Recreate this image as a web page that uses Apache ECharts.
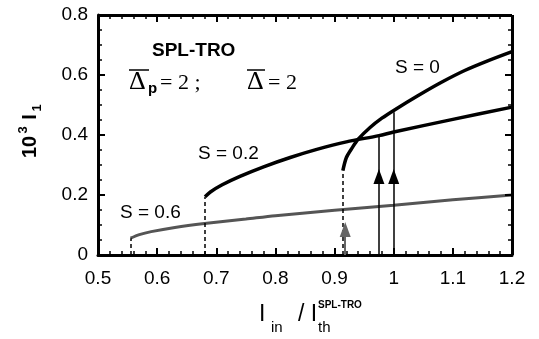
<!DOCTYPE html>
<html>
<head>
<meta charset="utf-8">
<script src="https://cdn.jsdelivr.net/npm/echarts@6/dist/echarts.min.js"></script>
<style>
  html, body { margin: 0; padding: 0; background: #fff; }
  #chart { width: 539px; height: 339px; }
</style>
</head>
<body>
<div id="chart"></div>
<script>
// S = 0 curve
const s0X = [0.914, 0.92, 0.93, 0.94, 0.96, 0.98, 1.0, 1.04, 1.08, 1.12, 1.16, 1.2];
const s0Y = [0.281, 0.325, 0.358, 0.386, 0.425, 0.456, 0.482, 0.53, 0.575, 0.615, 0.648, 0.678];
// S = 0.2 curve
const s02X = [0.681, 0.69, 0.71, 0.74, 0.78, 0.825, 0.87, 0.92, 0.975, 1.0, 1.1, 1.2];
const s02Y = [0.194, 0.21, 0.234, 0.262, 0.294, 0.325, 0.352, 0.377, 0.398, 0.41, 0.452, 0.493];
// S = 0.6 curve
const s06X = [0.555, 0.57, 0.59, 0.63, 0.68, 0.75, 0.8, 0.9, 1.0, 1.1, 1.2];
const s06Y = [0.056, 0.068, 0.078, 0.092, 0.105, 0.12, 0.131, 0.149, 0.166, 0.184, 0.2];

// arrows: x position, arrow head centre, top of the stem (null = stops at head)
const arrowX = [0.918, 0.975, 1.0];
const arrowHead = [0.085, 0.262, 0.262];
const arrowTop = [null, 0.398, 0.476];
const arrowColor = ['#666', '#000', '#000'];

// axes
const xMin = 0.5, xMax = 1.2, xStep = 0.1, xMinorSplit = 5;
const yMin = 0, yMax = 0.8, yStep = 0.2, yMinorSplit = 4;

// plot area in px (grid) and tick lengths
const gridW = 414, gridH = 240;
const majorLen = 7, minorLen = 4;
const pxX = (xMax - xMin) / gridW, pxY = (yMax - yMin) / gridH;

const pairs = (xs, ys) => xs.map((x, i) => [x, ys[i]]);

// inward ticks on all four sides of the frame
function tickLines(major) {
  const out = [];
  const len = major ? majorLen : minorLen;
  const nx = Math.round((xMax - xMin) / xStep) * xMinorSplit;
  for (let i = 0; i <= nx; i++) {
    if ((i % xMinorSplit === 0) !== major) continue;
    const v = xMin + i * xStep / xMinorSplit;
    out.push([{ coord: [v, yMin] }, { coord: [v, yMin + len * pxY] }]);
    out.push([{ coord: [v, yMax] }, { coord: [v, yMax - len * pxY] }]);
  }
  const ny = Math.round((yMax - yMin) / yStep) * yMinorSplit;
  for (let i = 0; i <= ny; i++) {
    if ((i % yMinorSplit === 0) !== major) continue;
    const v = yMin + i * yStep / yMinorSplit;
    out.push([{ coord: [xMin, v] }, { coord: [xMin + len * pxX, v] }]);
    out.push([{ coord: [xMax, v] }, { coord: [xMax - len * pxX, v] }]);
  }
  return out;
}

function lineLayer(data, width) {
  return {
    type: 'line',
    data: [],
    clip: false,
    markLine: {
      silent: true,
      animation: false,
      symbol: ['none', 'none'],
      label: { show: false },
      lineStyle: { color: '#000', width: width, type: 'solid' },
      data: data
    }
  };
}

function makeAxis(type) {
  const isX = type === 'x';
  return {
    type: 'value',
    min: isX ? xMin : yMin,
    max: isX ? xMax : yMax,
    interval: isX ? xStep : yStep,
    axisLine: { show: true, onZero: false, lineStyle: { color: '#000', width: 3 } },
    axisTick: { show: false },
    splitLine: { show: false },
    axisLabel: {
      color: '#000',
      fontSize: 19,
      fontFamily: 'Liberation Sans',
      margin: isX ? 14 : 10,
      formatter: v => String(Math.round(v * 10) / 10)
    }
  };
}

function curve(xs, ys, color, width) {
  return {
    type: 'line',
    data: pairs(xs, ys),
    smooth: 0.3,
    symbol: 'none',
    lineStyle: { color: color, width: width },
    markLine: {
      silent: true,
      symbol: ['none', 'none'],
      label: { show: false },
      lineStyle: { color: '#000', width: 1.5, type: [4, 3] },
      data: [[{ coord: [xs[0], 0] }, { coord: [xs[0], ys[0]] }]]
    }
  };
}

const arrowSeries = arrowX.map((x, i) => {
  const lines = [[
    { coord: [x, 0], symbol: 'none' },
    { coord: [x, arrowHead[i]], symbol: 'triangle', symbolSize: [11, 15] }
  ]];
  if (arrowTop[i] !== null) {
    lines.push([{ coord: [x, arrowHead[i]], symbol: 'none' }, { coord: [x, arrowTop[i]], symbol: 'none' }]);
  }
  return {
    type: 'line',
    data: [],
    markLine: {
      silent: true,
      label: { show: false },
      itemStyle: { color: arrowColor[i] },
      lineStyle: { color: arrowColor[i], width: i === 0 ? 2 : 1.5, type: 'solid' },
      data: lines
    }
  };
});

const frame = [
  [{ coord: [xMin, yMax] }, { coord: [xMax, yMax] }],
  [{ coord: [xMax, yMin] }, { coord: [xMax, yMax] }]
];

const sans = 'Liberation Sans';
const serif = 'Liberation Serif';
const yName = (text, size, x, y) => ({
  type: 'text', x: x, y: y, rotation: Math.PI / 2,
  style: { text: text, font: 'bold ' + size + 'px ' + sans, fill: '#000', align: 'center', verticalAlign: 'middle' }
});

const chart = echarts.init(document.getElementById('chart'), null, { renderer: 'canvas' });
chart.setOption({
  animation: false,
  grid: { left: 98, right: 27, top: 15, bottom: 84 },
  xAxis: makeAxis('x'),
  yAxis: makeAxis('y'),
  series: [
    lineLayer(frame, 3),
    lineLayer(tickLines(true), 2),
    lineLayer(tickLines(false), 1.5),
    curve(s06X, s06Y, '#555', 3),
    curve(s02X, s02Y, '#000', 3.5),
    curve(s0X, s0Y, '#000', 3.5),
    ...arrowSeries
  ],
  graphic: [
    yName('10', 20, 30, 147),
    yName('3', 13, 23, 130),
    yName('I', 20, 30, 117),
    yName('1', 13, 37, 108),
    { type: 'text', left: 152, top: 41, style: { text: 'SPL-TRO', font: 'bold 19px ' + sans, fill: '#000' } },
    { type: 'text', left: 129, top: 69, style: { text: 'Δ', font: '26px ' + serif, fill: '#000' } },
    { type: 'text', left: 148, top: 81, style: { text: 'p', font: 'bold 15px ' + sans, fill: '#000' } },
    { type: 'text', left: 160, top: 72, style: { text: '= 2 ;', font: '22px ' + serif, fill: '#000' } },
    { type: 'text', left: 247, top: 69, style: { text: 'Δ', font: '26px ' + serif, fill: '#000' } },
    { type: 'text', left: 268, top: 72, style: { text: '= 2', font: '22px ' + serif, fill: '#000' } },
    { type: 'line', shape: { x1: 129, y1: 70, x2: 149, y2: 70 }, style: { stroke: '#000', lineWidth: 1.5 } },
    { type: 'line', shape: { x1: 247, y1: 70, x2: 265, y2: 70 }, style: { stroke: '#000', lineWidth: 1.5 } },
    { type: 'text', left: 395, top: 58, style: { text: 'S = 0', font: '19px ' + sans, fill: '#000' } },
    { type: 'text', left: 198, top: 144, style: { text: 'S = 0.2', font: '19px ' + sans, fill: '#000' } },
    { type: 'text', left: 120, top: 203, style: { text: 'S = 0.6', font: '19px ' + sans, fill: '#000' } },
    { type: 'text', left: 259, top: 303, style: { text: 'I', font: '23px ' + sans, fill: '#000' } },
    { type: 'text', left: 271, top: 320, style: { text: 'in', font: '15px ' + sans, fill: '#000' } },
    { type: 'text', left: 298, top: 303, style: { text: '/ I', font: '23px ' + sans, fill: '#000' } },
    { type: 'text', left: 318, top: 300, style: { text: 'SPL-TRO', font: 'bold 10px ' + sans, fill: '#000' } },
    { type: 'text', left: 318, top: 320, style: { text: 'th', font: '15px ' + sans, fill: '#000' } }
  ]
});
</script>
</body>
</html>
